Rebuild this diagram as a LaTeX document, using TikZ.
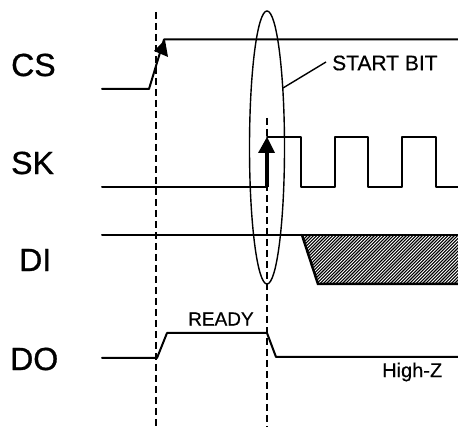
\documentclass[tikz,border=0pt]{standalone}
\usepackage{fontspec}
\setmainfont{Liberation Sans}
\usetikzlibrary{arrows.meta}
\tikzset{
  sig/.style={line width=2pt,line join=round,line cap=round,black},
  guide/.style={line width=1.1pt,dash pattern=on 7pt off 4pt,black},
  siglabel/.style={font=\fontsize{32}{32}\selectfont\addfontfeature{FakeBold=1},anchor=west,inner sep=0pt},
  smalllabel/.style={font=\fontsize{19}{19}\selectfont\addfontfeature{FakeBold=0.5},anchor=west,inner sep=0pt},
  startlabel/.style={font=\fontsize{21}{21}\selectfont\addfontfeature{FakeBold=0.5},anchor=west,inner sep=0pt},
  tinylabel/.style={font=\fontsize{20}{20}\selectfont\addfontfeature{FakeBold=0.5},anchor=west,inner sep=0pt}
}
\begin{document}
\begin{tikzpicture}[x=1pt,y=-1pt]
\useasboundingbox (0,0) rectangle (458,427);
% hatching
\begin{scope}
\clip (302,235) -- (318,284) -- (458,284) -- (458,235) -- cycle;
\foreach \i in {0,3.2,...,230} {
  \draw[line width=1.1pt] (240+\i,290) -- ++(60,-60);
}
\end{scope}
% guides
\draw[guide] (156,12) -- (156,427);
\draw[guide] (267,118) -- (267,427);
% ellipse and leader
\draw[line width=1.4pt] (267,147.5) ellipse [x radius=17.5,y radius=136.5];
\coordinate (ldA) at (283,88);
\coordinate (ldB) at (326,62);
\draw[line width=1.4pt] (ldA) -- (ldB);
% CS
\draw[sig] (102,89) -- (149,89) -- (164,39.5) -- (458,39.5);
\fill (165,40) -- (168,57) -- (154,51) -- cycle;
% SK
\draw[sig] (102,187) -- (267,187);
\draw[line width=3.5pt] (267,187) -- (267,150);
\fill (267,137) -- (275,153) -- (258,153) -- cycle;
\draw[sig] (267,137) -- (301,137) -- (301,187) -- (335,187) -- (335,137) -- (368,137) -- (368,187) -- (402,187) -- (402,137) -- (436,137) -- (436,187) -- (458,187);
% DI
\draw[sig] (102,235) -- (458,235);
\draw[line width=2.5pt,line cap=round] (302,235) -- (318,284) -- (458,284);
% DO
\draw[sig] (102,358) -- (157,358) -- (167,333) -- (267,333) -- (276,357) -- (458,357);
% labels
\node[siglabel] (cs) at (11,65) {CS};
\node[siglabel] (sk) at (11,163) {SK};
\node[siglabel] (di) at (19,260) {DI};
\node[siglabel] (do) at (10,359) {DO};
\node[startlabel] (start) at (332,63) {START BIT};
\node[smalllabel] (ready) at (188,319) {READY};
\node[tinylabel] (hz) at (382,372) {High-Z};
\end{tikzpicture}
\end{document}
